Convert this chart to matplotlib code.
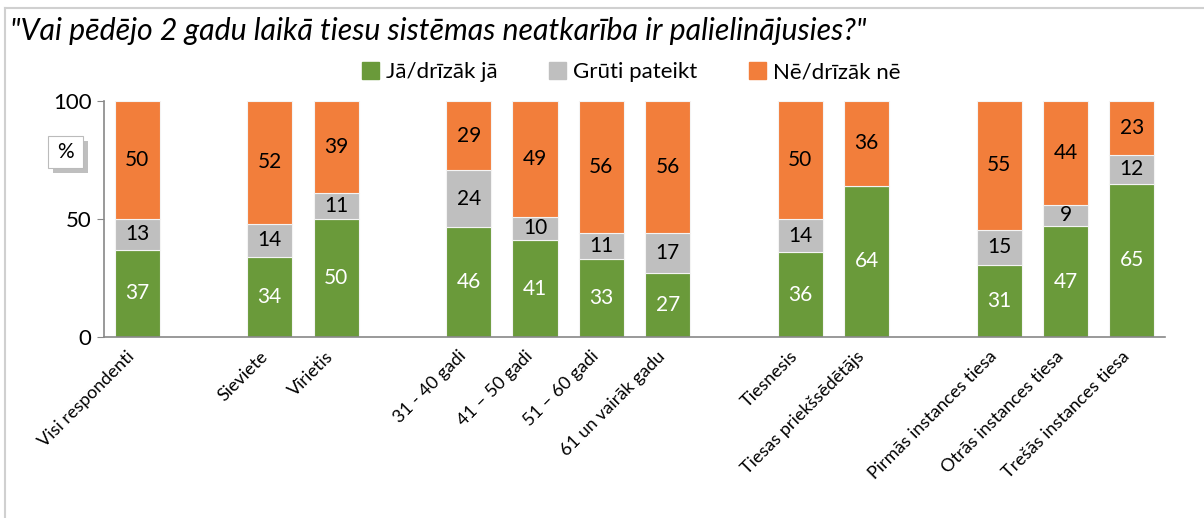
import matplotlib
matplotlib.use("Agg")
import matplotlib.pyplot as plt
from matplotlib.patches import Rectangle
from matplotlib.lines import Line2D
import matplotlib.transforms as mtrans
import numpy as np

plt.rcParams['font.family'] = ['Lato', 'DejaVu Sans']

title = '"Vai pēdējo 2 gadu laikā tiesu sistēmas neatkarība ir palielinājusies?"'
series_names = ["Jā/drīzāk jā", "Grūti pateikt", "Nē/drīzāk nē"]
colors = ["#6A9A3A", "#BFBFBF", "#F27E3B"]

# categories incl. blank spacer slots ("")
categories = ["Visi respondenti", "", "Sieviete", "Vīrietis", "",
              "31 - 40 gadi", "41 – 50 gadi", "51 – 60 gadi", "61 un vairāk gadu", "",
              "Tiesnesis", "Tiesas priekšsēdētājs", "",
              "Pirmās instances tiesa", "Otrās instances tiesa", "Trešās instances tiesa"]
yes_vals = [37, None, 34, 50, None, 46, 41, 33, 27, None, 36, 64, None, 31, 47, 65]
hard_vals = [13, None, 14, 11, None, 24, 10, 11, 17, None, 14, 0, None, 15, 9, 12]
no_vals = [50, None, 52, 39, None, 29, 49, 56, 56, None, 50, 36, None, 55, 44, 23]

W, H = 1204, 518
fig = plt.figure(figsize=(W / 100, H / 100), dpi=100)
ax = fig.add_axes([104 / W, 1 - 337 / H, (1165 - 104) / W, (337 - 101) / H])

x = np.arange(len(categories))
idx = [i for i, v in enumerate(yes_vals) if v is not None]
yes = np.array([yes_vals[i] for i in idx], float)
hard = np.array([hard_vals[i] for i in idx], float)
no = np.array([no_vals[i] for i in idx], float)
tot = yes + hard + no
# 100% stacked
parts = [yes / tot * 100, hard / tot * 100, no / tot * 100]
raw = [yes, hard, no]
bottom = np.zeros(len(idx))
bw = 0.68
for k in range(3):
    bars = ax.bar(x[idx], parts[k], bw, bottom=bottom, color=colors[k],
                  edgecolor="#F4F4F4", linewidth=0.8, label=series_names[k], zorder=2)
    for j, b in enumerate(bars):
        if raw[k][j] > 0:
            ax.text(b.get_x() + b.get_width() / 2, bottom[j] + parts[k][j] / 2,
                    f"{int(raw[k][j])}", ha="center", va="center", fontsize=15,
                    color="white" if k == 0 else "black", zorder=3)
    bottom = bottom + parts[k]

ax.set_xlim(-0.5, len(categories) - 0.5)
ax.set_ylim(0, 100)
ax.set_yticks([0, 50, 100])
ax.tick_params(axis="y", labelsize=16, length=5, color="#888888", pad=4)
ax.set_xticks(x[idx])
ax.set_xticklabels([categories[i] for i in idx], rotation=45, ha="right", va="center",
                   rotation_mode="anchor", fontsize=13)
ax.tick_params(axis="x", length=0, pad=12)
off = mtrans.ScaledTranslation(-5 / 100, 0, fig.dpi_scale_trans)
for lab in ax.get_xticklabels():
    lab.set_transform(lab.get_transform() + off)
for s in ["top", "right"]:
    ax.spines[s].set_visible(False)
for s in ["left", "bottom"]:
    ax.spines[s].set_color("#888888")
    ax.spines[s].set_linewidth(1.2)

fig.text(10 / W, 1 - 31 / H, title, fontsize=21.8, style="italic", ha="left", va="center")

leg = fig.legend(handles=[Rectangle((0, 0), 1, 1, color=c) for c in colors],
                 labels=series_names, loc="center", bbox_to_anchor=(631 / W, 1 - 72 / H),
                 ncol=3, frameon=False, fontsize=16, handlelength=0.8, handleheight=0.8,
                 handletextpad=0.3, columnspacing=2.3)

# % box with shadow
fig.patches.append(Rectangle((53 / W, 1 - 173 / H), 35 / W, 32 / H, transform=fig.transFigure,
                             facecolor="#BFBFBF", edgecolor="none"))
fig.patches.append(Rectangle((48 / W, 1 - 168 / H), 35 / W, 32 / H, transform=fig.transFigure,
                             facecolor="white", edgecolor="#BBBBBB", linewidth=0.8))
fig.text(65.5 / W, 1 - 152 / H, "%", fontsize=15, ha="center", va="center")

# outer frame lines (top and left)
fig.add_artist(Line2D([4.5 / W, 1], [1 - 7.5 / H, 1 - 7.5 / H], color="#D0D0D0", lw=1.5))
fig.add_artist(Line2D([4.5 / W, 4.5 / W], [0, 1 - 7.5 / H], color="#D0D0D0", lw=1.5))

fig.savefig("out.png", dpi=100, facecolor="white")
